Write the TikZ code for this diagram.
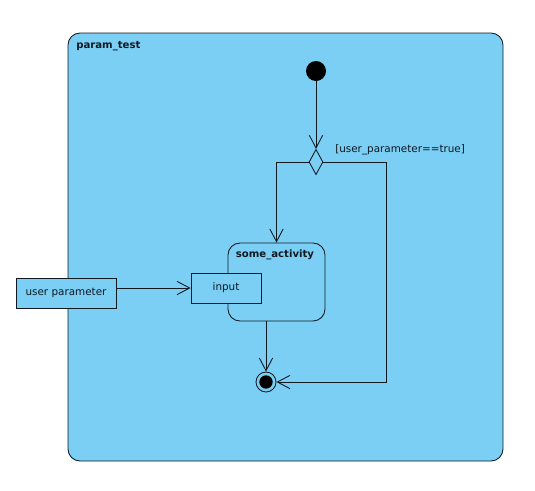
\documentclass[tikz,border=0pt]{standalone}
\usepackage{fontspec}
\setmainfont{DejaVu Sans}
\usetikzlibrary{arrows.meta,shapes.geometric}
\definecolor{umlblue}{HTML}{7BCFF5}
\definecolor{umlline}{HTML}{101820}
\tikzset{
  conn/.style={draw=umlline,line width=0.65pt,-{Straight Barb[length=9.5pt,width=10pt,line width=0.65pt]}},
  boxnode/.style={draw=umlline,fill=umlblue,line width=0.65pt,inner sep=0pt},
  lbl/.style={font=\fontsize{7.8pt}{9pt}\selectfont,text=umlline,inner sep=0pt},
  blbl/.style={font=\fontsize{7.6pt}{9pt}\selectfont\bfseries,text=umlline,inner sep=0pt},
}
\begin{document}
\begin{tikzpicture}[x=0.75pt,y=-0.75pt]
\useasboundingbox (0,0) rectangle (535,490);
% frame
\draw[draw=umlline,fill=umlblue,line width=0.65pt,rounded corners=9pt] (68,33) rectangle (503,461);
\node[blbl,anchor=west] (title) at (76,46) {param\_test};
% start
\node[circle,fill=black,minimum size=15pt,inner sep=0pt] (start) at (316,71) {};
% decision
\node[diamond,boxnode,minimum width=10.5pt,minimum height=19pt] (dec) at (316,162) {};
\node[lbl,anchor=west] (guard) at (335,149.5) {[user\_parameter==true]};
% activity
\node[boxnode,rounded corners=9pt,minimum width=72.75pt,minimum height=58.5pt] (act) at (276.5,282) {};
\node[blbl] (actlbl) at (275,255) {some\_activity};
% input pin
\node[boxnode,minimum width=52.5pt,minimum height=22.5pt,lbl] (pin) at (226,288) {input};
% user parameter
\node[boxnode,minimum width=75pt,minimum height=22.5pt,lbl] (param) at (66,293) {user parameter};
% final
\node[circle,draw=umlline,line width=0.65pt,fill=umlblue,minimum size=15pt,inner sep=0pt] (final) at (266,382) {};
\fill[black] (final.center) circle (5pt);
% connectors
\draw[conn] (start) -- (dec.north);
\draw[conn] (dec.west) -| (act.north);
\draw[conn] (dec.east) -- ++(63,0) |- (final.east);
\draw[conn] (act.south -| final) -- (final.north);
\draw[conn] (param.east |- pin.west) -- (pin.west);
\end{tikzpicture}
\end{document}
